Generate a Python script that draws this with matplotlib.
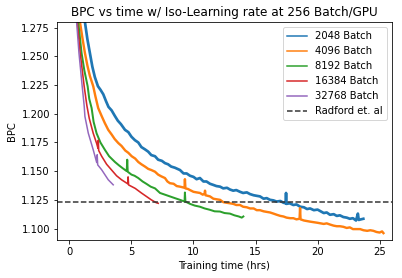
import numpy as np
import matplotlib
matplotlib.use('Agg')
import matplotlib.pyplot as plt

# BPC (hours, bpc)
t_2048 = [0.25, 0.60, 0.95, 1.25, 1.45, 1.65, 1.85, 2.05, 2.30, 2.50, 2.73, 2.95, 3.15, 3.40, 3.67,
          3.90, 4.15, 4.48, 4.75, 5.00, 5.28, 5.55, 5.80, 6.09, 6.35, 6.60, 6.90, 7.15, 7.45, 7.70,
          7.95, 8.20, 8.50, 8.91, 9.20, 9.45, 9.72, 10.00, 10.25, 10.52, 10.80, 11.05, 11.33, 11.60,
          11.85, 12.14, 12.40, 12.70, 12.94, 13.20, 13.45, 13.75, 14.00, 14.30, 14.56, 14.85, 15.10,
          15.36, 15.65, 15.90, 16.17, 16.45, 16.70, 17.00, 17.25, 17.42, 17.46, 17.50, 17.75, 18.05,
          18.30, 18.60, 18.90, 19.15, 19.40, 19.70, 20.00, 20.25, 20.50, 20.74, 21.00, 21.30, 21.55,
          21.80, 22.08, 22.35, 22.60, 22.85, 23.10, 23.25, 23.32, 23.50, 23.69]
bpc_2048 = [1.450, 1.360, 1.305, 1.280, 1.265, 1.253, 1.241, 1.232, 1.224, 1.221, 1.217, 1.211, 1.206,
            1.203, 1.198, 1.194, 1.191, 1.186, 1.184, 1.180, 1.177, 1.175, 1.171, 1.169, 1.167, 1.164,
            1.163, 1.160, 1.159, 1.157, 1.156, 1.154, 1.153, 1.151, 1.148, 1.148, 1.146, 1.145, 1.143,
            1.144, 1.141, 1.141, 1.139, 1.138, 1.137, 1.1365, 1.135, 1.1355, 1.134, 1.133, 1.1335,
            1.132, 1.131, 1.1315, 1.130, 1.129, 1.1285, 1.128, 1.126, 1.1265, 1.125, 1.1245, 1.1235,
            1.124, 1.1225, 1.122, 1.131, 1.1215, 1.122, 1.1205, 1.121, 1.119, 1.1185, 1.117, 1.1175,
            1.116, 1.1165, 1.115, 1.1135, 1.114, 1.112, 1.1125, 1.111, 1.1115, 1.110, 1.1095, 1.1085,
            1.109, 1.107, 1.113, 1.1075, 1.108, 1.1085]

t_4096 = [0.20, 0.50, 0.85, 1.05, 1.25, 1.45, 1.65, 1.92, 2.10, 2.32, 2.60, 2.85, 3.13, 3.40, 3.65,
          3.94, 4.20, 4.50, 4.75, 5.02, 5.30, 5.55, 5.80, 6.09, 6.35, 6.60, 6.90, 7.15, 7.40, 7.70,
          7.90, 8.10, 8.40, 8.65, 8.91, 9.10, 9.28, 9.31, 9.35, 9.55, 9.72, 10.00, 10.25, 10.52,
          10.75, 10.90, 10.93, 10.97, 11.15, 11.33, 11.60, 11.85, 12.14, 12.40, 12.65, 12.94, 13.20,
          13.45, 13.75, 14.00, 14.30, 14.56, 14.85, 15.10, 15.36, 15.65, 15.90, 16.17, 16.45, 16.71,
          17.00, 17.25, 17.50, 17.80, 18.05, 18.30, 18.55, 18.59, 18.63, 18.90, 19.15, 19.40, 19.70,
          20.00, 20.25, 20.50, 20.74, 21.00, 21.30, 21.55, 21.80, 22.08, 22.35, 22.60, 22.85, 23.10,
          23.43, 23.70, 24.00, 24.25, 24.50, 24.75, 25.00, 25.20, 25.31]
bpc_4096 = [1.500, 1.360, 1.280, 1.266, 1.253, 1.242, 1.233, 1.224, 1.215, 1.205, 1.198, 1.192, 1.186,
            1.182, 1.178, 1.1745, 1.172, 1.168, 1.166, 1.163, 1.161, 1.158, 1.156, 1.154, 1.152, 1.151,
            1.1495, 1.147, 1.1455, 1.144, 1.141, 1.1395, 1.139, 1.137, 1.1365, 1.136, 1.1355, 1.143,
            1.135, 1.1345, 1.1335, 1.132, 1.1315, 1.131, 1.1295, 1.1305, 1.133, 1.129, 1.1285, 1.128,
            1.126, 1.1255, 1.125, 1.123, 1.1225, 1.122, 1.1215, 1.1205, 1.1205, 1.119, 1.1185, 1.1175,
            1.1175, 1.116, 1.116, 1.115, 1.1145, 1.114, 1.113, 1.112, 1.111, 1.1105, 1.1095, 1.109,
            1.109, 1.108, 1.1085, 1.1178, 1.108, 1.107, 1.1065, 1.106, 1.1055, 1.105, 1.1045, 1.104,
            1.1045, 1.1035, 1.1025, 1.102, 1.102, 1.1015, 1.1005, 1.101, 1.0995, 1.0995, 1.0995,
            1.0985, 1.098, 1.0985, 1.098, 1.097, 1.0965, 1.0975, 1.096]

t_8192 = [0.20, 0.45, 0.71, 0.98, 1.20, 1.47, 1.60, 1.79, 1.95, 2.19, 2.50, 2.86, 3.20, 3.67, 4.00,
          4.30, 4.62, 4.66, 4.70, 5.00, 5.25, 5.55, 5.90, 6.20, 6.55, 6.90, 7.30, 7.70, 8.10, 8.50,
          8.91, 9.28, 9.31, 9.35, 9.72, 10.10, 10.52, 10.90, 11.33, 11.70, 12.14, 12.50, 12.94,
          13.30, 13.65, 13.89, 14.02]
bpc_8192 = [1.520, 1.340, 1.280, 1.253, 1.238, 1.224, 1.213, 1.205, 1.193, 1.183, 1.175, 1.1686,
            1.163, 1.158, 1.155, 1.1525, 1.150, 1.160, 1.1495, 1.147, 1.146, 1.144, 1.141, 1.139,
            1.1365, 1.135, 1.131, 1.1295, 1.128, 1.1265, 1.125, 1.1235, 1.1314, 1.1235, 1.1215,
            1.120, 1.119, 1.1175, 1.1163, 1.115, 1.1148, 1.1135, 1.113, 1.1115, 1.1105, 1.1095, 1.1105]

t_16384 = [0.20, 0.45, 0.63, 0.87, 1.19, 1.41, 1.60, 1.92, 2.20, 2.30, 2.33, 2.36, 2.60, 3.00, 3.40,
           3.80, 4.20, 4.70, 4.73, 4.77, 5.30, 5.80, 6.20, 6.60, 7.00, 7.16]
bpc_16384 = [1.540, 1.320, 1.280, 1.253, 1.224, 1.207, 1.196, 1.183, 1.174, 1.170, 1.177, 1.168,
             1.163, 1.156, 1.151, 1.146, 1.1425, 1.139, 1.145, 1.138, 1.135, 1.131, 1.128, 1.125,
             1.1225, 1.122]

t_32768 = [0.20, 0.40, 0.58, 0.77, 1.03, 1.19, 1.25, 1.52, 1.92, 2.20, 2.24, 2.28, 2.60, 3.13, 3.53]
bpc_32768 = [1.560, 1.360, 1.280, 1.253, 1.224, 1.207, 1.1977, 1.1832, 1.1686, 1.1575, 1.1643,
             1.1555, 1.1512, 1.1425, 1.1381]

radford_bpc = 1.1227

fig = plt.figure(figsize=(402 / 72, 278 / 72), dpi=72)
ax = fig.add_axes([57 / 402, 38 / 278, 335 / 402, 218 / 278])

# noisy runs look thicker in the original, so widen the long ones
ax.plot(t_2048, bpc_2048, label="2048 Batch", lw=2.7)
ax.plot(t_4096, bpc_4096, label="4096 Batch", lw=2.4)
ax.plot(t_8192, bpc_8192, label="8192 Batch", lw=2.0)
ax.plot(t_16384, bpc_16384, label="16384 Batch", lw=1.6)
ax.plot(t_32768, bpc_32768, label="32768 Batch", lw=1.5)
ax.axhline(radford_bpc, color='#333333', linestyle='--', lw=1.5, label="Radford et. al")

ax.set_xlim(-1.0, 26.0)
ax.set_ylim(1.090, 1.280)
ax.set_xticks([0, 5, 10, 15, 20, 25])
ax.set_yticks(np.arange(1.100, 1.2751, 0.025))
ax.set_title("BPC vs time w/ Iso-Learning rate at 256 Batch/GPU")
ax.set_xlabel("Training time (hrs)")
ax.set_ylabel("BPC")
leg = ax.legend(loc='upper right')
for line in leg.get_lines():
    line.set_linewidth(1.5)

fig.savefig("out.png", dpi=72)
